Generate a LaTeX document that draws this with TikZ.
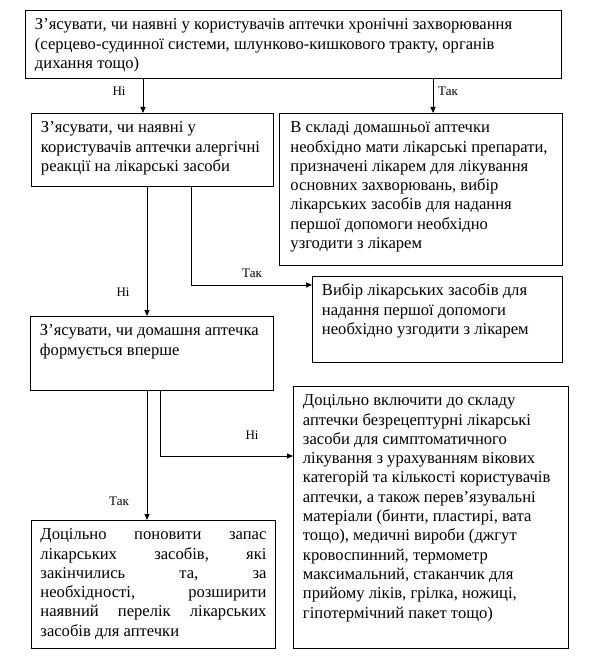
\documentclass[tikz,border=0pt]{standalone}
\usepackage{fontspec}
\setmainfont{Liberation Serif}
\usetikzlibrary{arrows.meta}
\newcommand\bxt[3]{\parbox[c][#2][t]{#1}{\raggedright\rule{0pt}{19.3pt}#3}}
\newcommand\jl[1]{\hbox to \linewidth{\rule{0pt}{14pt}#1}}
\tikzset{
  flowbox/.style={draw, line width=0.9pt, inner ysep=0pt, inner xsep=9.5pt, anchor=north west,
    font={\fontsize{16.6pt}{19.3pt}\selectfont}},
  conn/.style={line width=0.9pt, -{Triangle[length=6pt,width=5pt]}},
  lbl/.style={font={\fontsize{13pt}{15pt}\selectfont}, inner sep=0pt}
}
\begin{document}
\begin{tikzpicture}[x=1pt,y=-1pt]
\useasboundingbox (0,0) rectangle (600,660);
% boxes
\node[flowbox] (b1) at (25,10) {\bxt{517pt}{68pt}{З’ясувати, чи наявні у користувачів аптечки хронічні захворювання\\(серцево-судинної системи, шлунково-кишкового тракту, органів\\дихання тощо)}};
\node[flowbox] (b2) at (31,113) {\bxt{223pt}{73pt}{З’ясувати, чи наявні у\\користувачів аптечки алергічні\\реакції на лікарські засоби}};
\node[flowbox, inner xsep=11pt] (b3) at (279,113) {\bxt{261pt}{152pt}{В складі домашньої аптечки\\необхідно мати лікарські препарати,\\призначені лікарем для лікування\\основних захворювань, вибір\\лікарських засобів для надання\\першої допомоги необхідно\\узгодити з лікарем}};
\node[flowbox] (b4) at (312,276) {\bxt{231pt}{86pt}{Вибір лікарських засобів для\\надання першої допомоги\\необхідно узгодити з лікарем}};
\node[flowbox] (b5) at (30,316) {\bxt{224pt}{74pt}{З’ясувати, чи домашня аптечка\\формується вперше}};
\node[flowbox] (b6) at (293,386) {\bxt{256pt}{262pt}{Доцільно включити до складу\\аптечки безрецептурні лікарські\\засоби для симптоматичного\\лікування з урахуванням вікових\\категорій та кількості користувачів\\аптечки, а також перев’язувальні\\матеріали (бинти, пластирі, вата\\тощо), медичні вироби (джгут\\кровоспинний, термометр\\максимальний, стаканчик для\\прийому ліків, грілка, ножиці,\\гіпотермічний пакет тощо)}};
\node[flowbox, inner xsep=9pt] (b7) at (31,520) {\parbox[c][128pt][t]{226pt}{%
\hbox to \linewidth{\rule{0pt}{19.3pt}Доцільно\hfill поновити\hfill запас}
\jl{лікарських\hfill засобів,\hfill які}
\jl{закінчились\hfill та,\hfill за}
\jl{необхідності,\hfill розширити}
\jl{наявний\hfill перелік\hfill лікарських}
\jl{засобів для аптечки\hfill}}};
% connector coordinates
\coordinate (c1) at (143,0);
\coordinate (c2) at (433,0);
\coordinate (c3) at (147,0);
\coordinate (c4) at (191,285);
\coordinate (c6) at (160,456);
% connectors
\draw[conn] (b1.south -| c1) -- (b2.north -| c1);
\draw[conn] (b1.south -| c2) -- (b3.north -| c2);
\draw[conn] (b2.south -| c3) -- (b5.north -| c3);
\draw[conn] (b2.south -| c4) |- (b4.west |- c4);
\draw[conn] (b5.south -| c3) -- (b7.north -| c3);
\draw[conn] (b5.south -| c6) |- (b6.west |- c6);
% labels
\node[lbl] (l1) at (119,91) {Ні};
\node[lbl] (l2) at (448,91) {Так};
\node[lbl] (l3) at (123,292) {Ні};
\node[lbl] (l4) at (252,273) {Так};
\node[lbl] (l5) at (119,501) {Так};
\node[lbl] (l6) at (252,435) {Ні};
\end{tikzpicture}
\end{document}
